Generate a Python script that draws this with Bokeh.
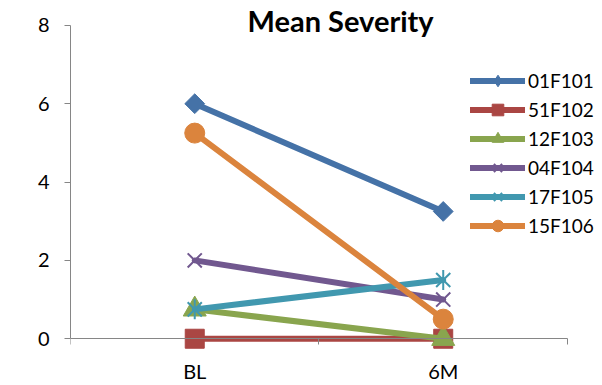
import numpy as np
from bokeh.plotting import figure
from bokeh.models import Range1d, LinearAxis, FixedTicker, Legend, LegendItem, Label
from bokeh.embed import file_html
from bokeh.resources import INLINE

# Data
categories = ["BL", "6M"]
series_names = ["01F101", "51F102", "12F103", "04F104", "17F105", "15F106"]
s_01F101 = [6.0, 3.25]
s_51F102 = [0.0, 0.0]
s_12F103 = [0.75, 0.0]
s_04F104 = [2.0, 1.0]
s_17F105 = [0.75, 1.5]
s_15F106 = [5.25, 0.5]
y_ticks = [0, 2, 4, 6, 8]

series_values = [s_01F101, s_51F102, s_12F103, s_04F104, s_17F105, s_15F106]
colors = ["#4572A7", "#AA4643", "#89A54E", "#71588F", "#4198AF", "#DB843D"]
# marker style per series: list of (marker, size, angle, line_width)
markers = [
    [("square", 14, np.pi / 4, 1)],
    [("square", 19, 0, 1)],
    [("triangle", 23, 0, 1)],
    [("x", 20, 0, 2)],
    [("x", 20, 0, 2), ("dash", 20, np.pi / 2, 2)],
    [("circle", 20, 0, 1)],
]
# key glyph for the legend where the plotted marker relies on rotation
legend_keys = ["diamond", None, None, None, None, None]

FONT = "Lato"
AXIS_GREY = "#868686"

n = len(categories)
xpos = list(range(n))                      # category centres
edges = [i - 0.5 for i in range(n + 1)]    # category boundaries

p = figure(width=602, height=385,
           x_range=Range1d(-0.5, 1.641), y_range=Range1d(-0.3, 8.635),
           x_axis_type=None, y_axis_type=None,
           output_backend="svg", toolbar_location=None,
           min_border_left=70, min_border_right=0,
           min_border_top=0, min_border_bottom=33)
p.outline_line_color = None
p.background_fill_color = "white"
p.border_fill_color = "white"

# Value axis
yaxis = LinearAxis(ticker=FixedTicker(ticks=y_ticks, minor_ticks=[]), bounds=(0, 8))
yaxis.axis_line_color = AXIS_GREY
yaxis.major_tick_line_color = AXIS_GREY
yaxis.major_tick_out = 6
yaxis.major_tick_in = 0
yaxis.minor_tick_line_color = None
yaxis.major_label_standoff = 15
yaxis.major_label_text_font = FONT
yaxis.major_label_text_font_size = "20px"
yaxis.major_label_text_color = "black"
p.add_layout(yaxis, "left")

# Category labels
xlabels = LinearAxis(ticker=FixedTicker(ticks=xpos, minor_ticks=[]))
xlabels.major_label_overrides = {i: c for i, c in enumerate(categories)}
xlabels.axis_line_color = None
xlabels.major_tick_line_color = None
xlabels.minor_tick_line_color = None
xlabels.major_tick_out = 0
xlabels.minor_tick_out = 0
xlabels.major_label_standoff = 8
xlabels.major_label_text_font = FONT
xlabels.major_label_text_font_size = "20px"
xlabels.major_label_text_color = "black"
p.add_layout(xlabels, "below")

# Category axis line crossing at zero, tick marks between categories
xaxis = LinearAxis(ticker=FixedTicker(ticks=xpos, minor_ticks=edges),
                   fixed_location=0, bounds=(edges[0], edges[-1]))
xaxis.axis_line_color = AXIS_GREY
xaxis.major_tick_line_color = None
xaxis.major_label_text_alpha = 0
xaxis.major_tick_out = 6
xaxis.major_tick_in = 0
xaxis.minor_tick_line_color = AXIS_GREY
xaxis.minor_tick_out = 6
xaxis.minor_tick_in = 0
p.add_layout(xaxis, "below")

items = []
for name, vals, col, mk, key in zip(series_names, series_values, colors, markers, legend_keys):
    line = p.line(xpos, vals, line_color=col, line_width=6, line_join="round", line_cap="round")
    pts = []
    for (m, size, ang, lw) in mk:
        pts.append(p.scatter(xpos, vals, marker=m, size=size, angle=ang,
                             fill_color=col, line_color=col, line_width=lw))
    if key is not None:
        # unplotted key glyph, only shown in the legend
        pts = [p.scatter([np.nan], [np.nan], marker=key, size=20,
                         fill_color=col, line_color=col)]
    items.append(LegendItem(label=name, renderers=[line] + pts))

legend = Legend(items=items, location=(400, 110))
legend.glyph_width = 55
legend.glyph_height = 29
legend.label_height = 29
legend.spacing = 0
legend.padding = 0
legend.margin = 0
legend.label_standoff = 3
legend.border_line_color = None
legend.background_fill_alpha = 0
legend.label_text_font = FONT
legend.label_text_font_size = "19px"
legend.label_text_color = "black"
legend.label_text_baseline = "middle"
p.add_layout(legend, "center")

title = Label(x=0.587, y=8.12, text="Mean Severity", text_align="center",
              text_baseline="alphabetic", text_font=FONT, text_font_size="29px",
              text_font_style="bold", text_color="black")
p.add_layout(title)

open("out.html", "w").write(file_html(p, INLINE))
